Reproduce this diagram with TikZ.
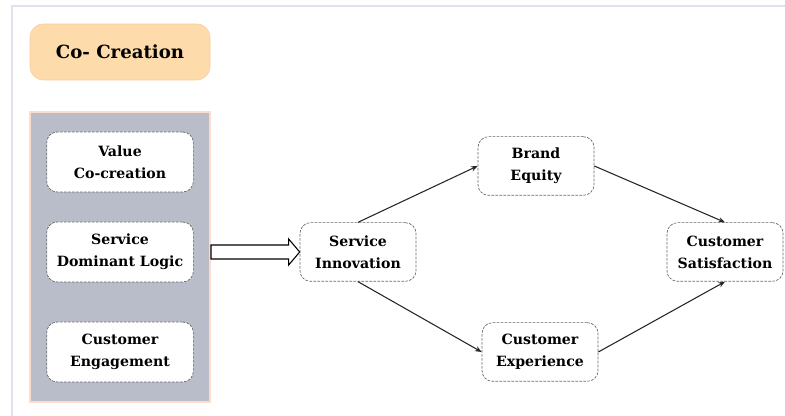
\documentclass[tikz,border=0pt]{standalone}
\usepackage{fontspec}
\setmainfont{DejaVu Serif}
\usetikzlibrary{arrows.meta,calc}
\definecolor{peach}{HTML}{FDDBAA}
\definecolor{peachline}{HTML}{FAC99C}
\definecolor{panelgray}{HTML}{B9BDC9}
\definecolor{panelline}{HTML}{FDDCCB}
\definecolor{frameline}{HTML}{DFE2EA}
\tikzset{
  conceptbox/.style={draw=black!60, line width=0.5pt, dash pattern=on 2pt off 1pt, fill=white,
    rounded corners=8pt, align=center, inner sep=0pt,
    font=\bfseries\fontsize{10.6}{16.5}\selectfont},
  leftbox/.style={conceptbox, minimum width=110pt, minimum height=45pt},
  midbox/.style={conceptbox, minimum width=87pt, minimum height=44pt},
  link/.style={-{Stealth[length=5pt,width=4pt]}, line width=0.8pt, black!85}
}

\begin{document}
\begin{tikzpicture}[x=0.75pt,y=-0.75pt]
\useasboundingbox (0,0) rectangle (785,416);
\draw[frameline, line width=1.5pt] (12,416) -- (12,6) -- (785,6);
% title and left panel
\node[draw=peachline, fill=peach, rounded corners=10pt, minimum width=135pt,
  minimum height=42pt, font=\bfseries\fontsize{13.6}{15}\selectfont] (title) at (120,52) {Co- Creation};
\node[draw=panelline, fill=panelgray, line width=1.5pt, minimum width=135pt,
  minimum height=217.5pt] (panel) at (120,257) {};
\foreach \name/\y/\txt in {vcc/162/Value\\Co-creation, sdl/252/Service\\Dominant Logic, eng/352/Customer\\Engagement}
  \node[leftbox] (\name) at (120,\y) {\txt};
% model
\node[midbox] (si) at (358,252) {Service\\Innovation};
\node[midbox] (be) at (536,166) {Brand\\Equity};
\node[midbox] (cx) at (540,352) {Customer\\Experience};
\node[midbox] (cs) at (725,252) {Customer\\Satisfaction};
\coordinate (tail) at (panel.east |- si.west);
\draw[thick, fill=white] ($(tail)+(0,-7)$) -- ($(si.west)+(-11,-7)$) -- ($(si.west)+(-11,-13)$)
  -- (si.west) -- ($(si.west)+(-11,13)$) -- ($(si.west)+(-11,7)$) -- ($(tail)+(0,7)$) -- cycle;
\draw[link] (si.north) -- (be.west);
\draw[link] (be.east) -- (cs.north);
\draw[link] (si.south) -- (cx.west);
\draw[link] (cx.east) -- (cs.south);
\end{tikzpicture}
\end{document}
